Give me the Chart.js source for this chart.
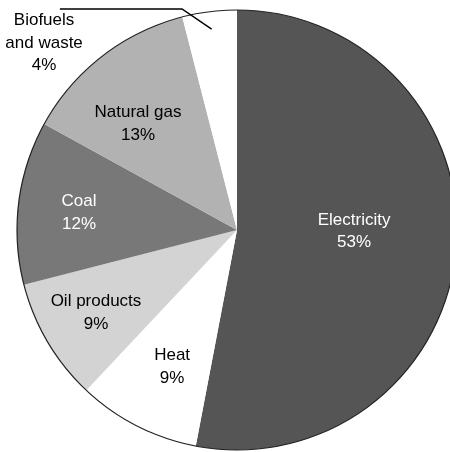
<!DOCTYPE html>
<html lang="en">
<head>
    <meta charset="UTF-8">
    <script src="https://cdn.jsdelivr.net/npm/chart.js"></script>
    <title>Energy use</title>
    <style>
        html, body { margin: 0; padding: 0; background: #fff; overflow: hidden; }
        canvas { display: block; }
    </style>
</head>
<body>
    <canvas id="myChart" width="474" height="460"></canvas>

    <script>
        // data, clockwise from 12 o'clock
        const categories = ["Electricity", "Heat", "Oil products", "Coal", "Natural gas", "Biofuels and waste"];
        const shares = [53, 9, 9, 12, 13, 4];
        const labelLines = [
            ["Electricity", "53%"],
            ["Heat", "9%"],
            ["Oil products", "9%"],
            ["Coal", "12%"],
            ["Natural gas", "13%"],
            ["Biofuels", "and waste", "4%"]
        ];

        // styling
        const sliceColors = ["#555555", "#ffffff", "#d3d3d3", "#787878", "#b2b2b2", "#ffffff"];
        const textColors = ["#fff", "#000", "#000", "#fff", "#000", "#000"];
        // label centres as fractions of the radius, relative to the pie centre
        const labelOffsets = [
            [0.532, 0.005], [-0.295, 0.623], [-0.641, 0.377],
            [-0.718, -0.077], [-0.45, -0.482], [-0.877, -0.85]
        ];

        const pieLabels = {
            id: "pieLabels",
            afterDatasetsDraw(chart) {
                const ctx = chart.ctx;
                const arcs = chart.getDatasetMeta(0).data;
                const cx = arcs[0].x, cy = arcs[0].y, r = arcs[0].outerRadius;

                // outer outline only
                ctx.save();
                ctx.beginPath();
                ctx.arc(cx, cy, r, 0, Math.PI * 2);
                ctx.lineWidth = 1.2;
                ctx.strokeStyle = "#222";
                ctx.stroke();

                // leader line for the small slice
                const last = arcs[arcs.length - 1];
                const mid = (last.startAngle + last.endAngle) / 2;
                ctx.beginPath();
                ctx.moveTo(cx + Math.cos(mid) * r * 0.92, cy + Math.sin(mid) * r * 0.92);
                ctx.lineTo(cx - 0.25 * r, cy - 1.005 * r);
                ctx.lineTo(cx - 0.805 * r, cy - 1.005 * r);
                ctx.lineWidth = 1.5;
                ctx.strokeStyle = "#000";
                ctx.stroke();

                ctx.font = "17px 'Liberation Sans', Arial, sans-serif";
                ctx.textAlign = "center";
                ctx.textBaseline = "middle";
                const lh = 22.5;
                labelLines.forEach(function(lines, i) {
                    const x = cx + labelOffsets[i][0] * r;
                    const y = cy + labelOffsets[i][1] * r;
                    ctx.fillStyle = textColors[i];
                    lines.forEach(function(t, k) {
                        ctx.fillText(t, x, y + (k - (lines.length - 1) / 2) * lh);
                    });
                });
                ctx.restore();
            }
        };

        new Chart("myChart", {
            type: "pie",
            data: {
                labels: categories,
                datasets: [{
                    data: shares,
                    backgroundColor: sliceColors,
                    borderWidth: 0
                }]
            },
            options: {
                responsive: false,
                animation: false,
                layout: { padding: 10 },
                plugins: {
                    legend: { display: false },
                    tooltip: { enabled: false }
                }
            },
            plugins: [pieLabels]
        });
    </script>
</body>
</html>
